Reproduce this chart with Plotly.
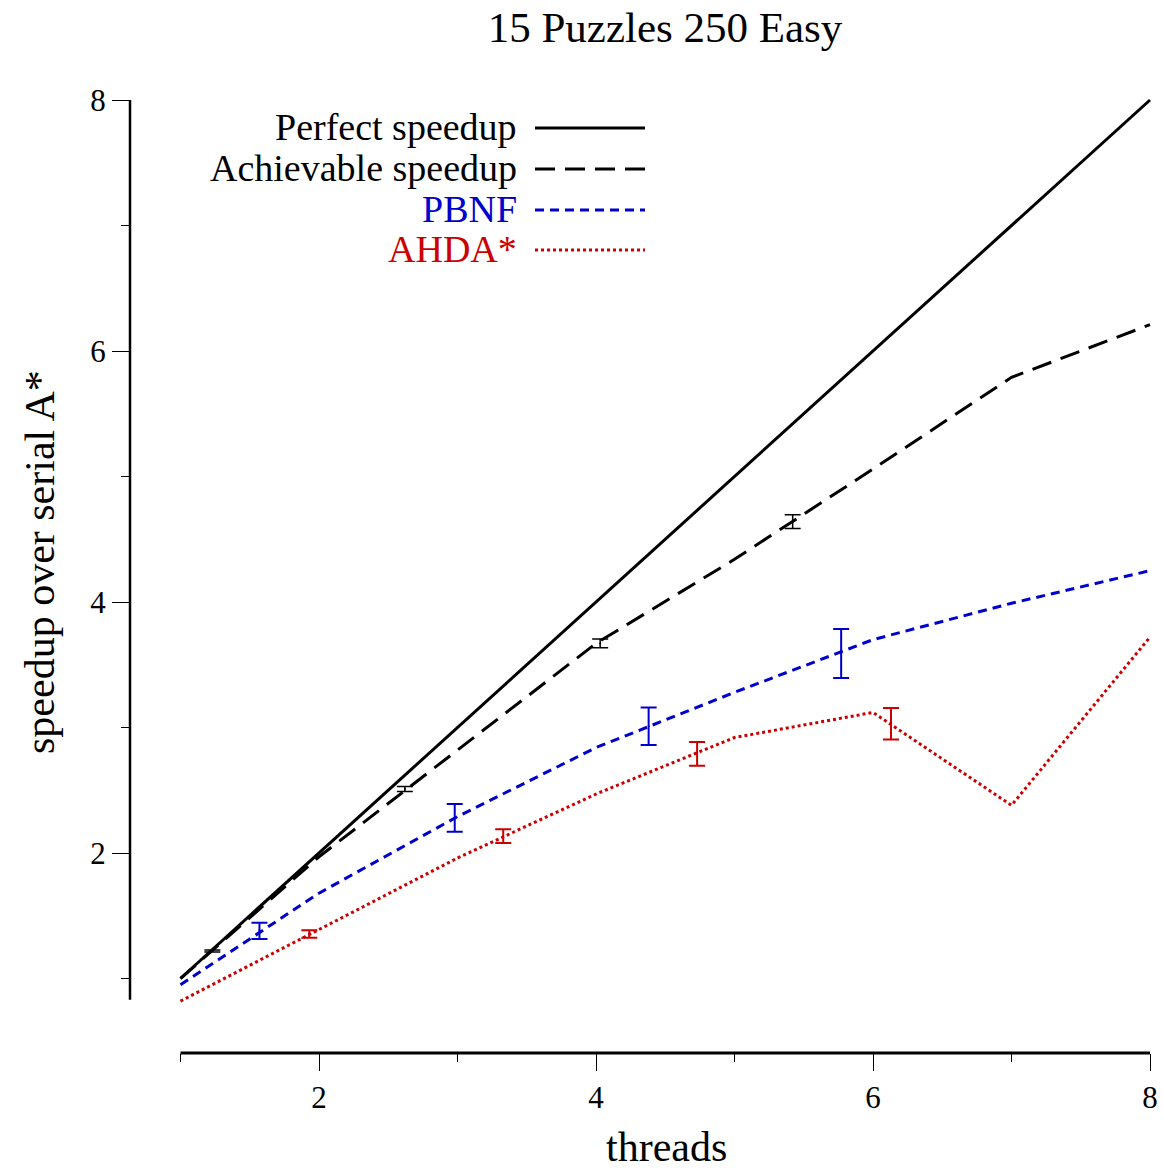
import plotly.graph_objects as go

# ---------------- data ----------------
threads = [1, 2, 3, 4, 5, 6, 7, 8]
perfect = [1, 2, 3, 4, 5, 6, 7, 8]
achievable = [1.0, 1.97, 2.82, 3.67, 4.34, 5.06, 5.79, 6.21]
pbnf = [0.95, 1.68, 2.29, 2.84, 3.28, 3.70, 3.99, 4.25]
ahda = [0.82, 1.39, 1.96, 2.47, 2.92, 3.12, 2.38, 3.72]

ach_err_x = [1.23, 2.62, 4.03, 5.42]
ach_err_y = [1.22, 2.51, 3.67, 4.64]
ach_err = [0.008, 0.02, 0.035, 0.055]

pbnf_err_x = [1.57, 2.98, 4.38, 5.77]
pbnf_err_y = [1.38, 2.28, 3.01, 3.59]
pbnf_err = [0.065, 0.11, 0.15, 0.195]

ahda_err_x = [1.93, 3.33, 4.73, 6.13]
ahda_err_y = [1.355, 2.135, 2.79, 3.03]
ahda_err = [0.03, 0.055, 0.095, 0.125]

x_ticks = [2, 4, 6, 8]
x_minor = [1, 3, 5, 7]
y_ticks = [2, 4, 6, 8]
y_minor = [1, 3, 5, 7]

legend_names = ["Perfect speedup", "Achievable speedup", "PBNF", "AHDA*"]

BLUE = "#0000cd"
RED = "#cd0000"
FONT = "Liberation Serif"

fig = go.Figure()

fig.add_trace(go.Scatter(x=threads, y=perfect, mode="lines",
                         line=dict(color="black", width=3), showlegend=False))
fig.add_trace(go.Scatter(x=threads, y=achievable, mode="lines",
                         line=dict(color="black", width=3, dash="20px,10px"), showlegend=False))
fig.add_trace(go.Scatter(x=threads, y=pbnf, mode="lines",
                         line=dict(color=BLUE, width=3, dash="9px,6px"), showlegend=False))
fig.add_trace(go.Scatter(x=threads, y=ahda, mode="lines",
                         line=dict(color=RED, width=3, dash="3px,3px"), showlegend=False))

for ex, ey, ee, col, th in [
    (ach_err_x, ach_err_y, ach_err, "black", 1.5),
    (pbnf_err_x, pbnf_err_y, pbnf_err, BLUE, 2),
    (ahda_err_x, ahda_err_y, ahda_err, RED, 2),
]:
    fig.add_trace(go.Scatter(
        x=ex, y=ey, mode="markers",
        marker=dict(size=2, color=col),
        error_y=dict(type="data", array=ee, visible=True, color=col,
                     thickness=th, width=8),
        showlegend=False))

# ---------------- layout geometry ----------------
L, R, T, B = 130, 3, 90, 120
W, H = 1163, 1173
pw = W - L - R
ph = H - T - B
bottom_px = H - B


def px_x(p):
    return (p - L) / pw


def px_y(p):
    return (bottom_px - p) / ph


x_range = [1 - 50.5 / 138.5, 8 + 10 / 138.5]
y_range = [1 - 74.5 / 125.5, 8 + 10 / 125.5]

fig.update_layout(
    width=W, height=H,
    margin=dict(l=L, r=R, t=T, b=B),
    paper_bgcolor="white", plot_bgcolor="white",
    font=dict(family=FONT, color="black"),
    title=dict(text="15 Puzzles 250 Easy", x=665 / W, xanchor="center",
               xref="container",
               y=1 - 27 / H, yanchor="middle", yref="container",
               font=dict(size=43, family=FONT)),
    xaxis=dict(range=x_range, showgrid=False, zeroline=False, showline=False,
               tickmode="array", tickvals=x_ticks, ticktext=[str(v) for v in x_ticks],
               ticks="outside", ticklen=17, tickwidth=1.3, tickcolor="black",
               tickfont=dict(size=31, family=FONT),
               minor=dict(tickmode="array", tickvals=x_minor, ticks="outside",
                          ticklen=8, tickwidth=1.3, tickcolor="black")),
    yaxis=dict(range=y_range, showgrid=False, zeroline=False, showline=False,
               tickmode="array", tickvals=y_ticks, ticktext=[str(v) for v in y_ticks],
               ticks="outside", ticklen=17, tickwidth=1.3, tickcolor="black",
               tickfont=dict(size=31, family=FONT),
               minor=dict(tickmode="array", tickvals=y_minor, ticks="outside",
                          ticklen=8, tickwidth=1.3, tickcolor="black")),
)

# axis lines (detached, R style)
fig.add_shape(type="line", xref="paper", yref="y", x0=0, x1=0,
              y0=0.83, y1=8, line=dict(color="black", width=2.5))
fig.add_shape(type="line", xref="x", yref="paper", x0=1, x1=8,
              y0=0, y1=0, line=dict(color="black", width=3))

# axis titles
fig.add_annotation(text="threads", xref="paper", yref="paper",
                   x=px_x(666), y=px_y(1147), xanchor="center", yanchor="middle",
                   showarrow=False, font=dict(size=42, family=FONT))
fig.add_annotation(text="speedup over serial A*", xref="paper", yref="paper",
                   x=px_x(40), y=px_y(562), xanchor="center", yanchor="middle",
                   textangle=-90, showarrow=False, font=dict(size=42, family=FONT))

# legend
leg_cols = ["black", "black", BLUE, RED]
leg_dash = ["solid", "20px,10px", "9px,6px", "3px,3px"]
leg_rows = [127, 168, 209, 249]
for name, col, dsh, ry in zip(legend_names, leg_cols, leg_dash, leg_rows):
    fig.add_annotation(text=name, xref="paper", yref="paper",
                       x=px_x(519), y=px_y(ry), xanchor="right", yanchor="middle",
                       showarrow=False, font=dict(size=38, family=FONT, color=col))
    fig.add_shape(type="line", xref="paper", yref="paper",
                  x0=px_x(535), x1=px_x(645), y0=px_y(ry + 1), y1=px_y(ry + 1),
                  line=dict(color=col, width=3, dash=dsh))

fig.write_html("out.html")
